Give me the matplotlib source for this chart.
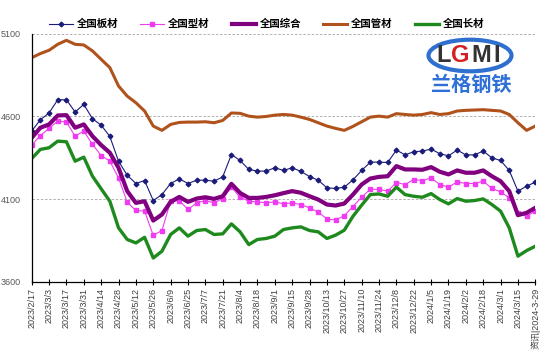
import matplotlib
matplotlib.use("Agg")
import matplotlib.pyplot as plt
import numpy as np
from matplotlib.patches import Ellipse

plt.rcParams['font.family'] = ['Liberation Sans', 'Noto Sans CJK SC']

date_labels = ['2023/2/17', '2023/3/3', '2023/3/17', '2023/3/31', '2023/4/14', '2023/4/28',
               '2023/5/12', '2023/5/26', '2023/6/9', '2023/6/25', '2023/7/7', '2023/7/21',
               '2023/8/4', '2023/8/18', '2023/9/1', '2023/9/15', '2023/9/28', '2023/10/13',
               '2023/10/27', '2023/11/10', '2023/11/24', '2023/12/8', '2023/12/22', '2024/1/5',
               '2024/1/19', '2024/2/2', '2024/2/18', '2024/3/1', '2024/3/15', '资讯|2024-3-29']

# 周度价格指数（元/吨）
banca = [4512, 4580, 4621, 4701, 4701, 4627, 4673, 4586, 4548, 4479, 4330, 4245, 4195, 4213, 4092,
         4128, 4195, 4223, 4195, 4215, 4215, 4209, 4235, 4370, 4334, 4280, 4270, 4270, 4290, 4274,
         4290, 4268, 4237, 4215, 4169, 4165, 4173, 4217, 4274, 4324, 4324, 4322, 4397, 4368, 4387,
         4391, 4403, 4375, 4362, 4397, 4368, 4368, 4391, 4350, 4334, 4274, 4149, 4179, 4203]
xingcai = [4427, 4485, 4528, 4572, 4566, 4481, 4512, 4431, 4364, 4330, 4229, 4082, 4032, 4028, 3882,
           3911, 4088, 4092, 4038, 4078, 4092, 4078, 4104, 4173, 4112, 4088, 4084, 4078, 4084, 4072,
           4078, 4068, 4048, 4022, 3981, 3975, 4001, 4056, 4112, 4161, 4159, 4149, 4201, 4189, 4219,
           4213, 4229, 4189, 4173, 4205, 4195, 4195, 4209, 4165, 4145, 4108, 4016, 3997, 4028]
zonghe = [4471, 4532, 4552, 4606, 4608, 4532, 4552, 4481, 4427, 4381, 4290, 4149, 4078, 4088, 3971,
          4008, 4084, 4114, 4084, 4104, 4112, 4102, 4118, 4193, 4138, 4108, 4108, 4114, 4124, 4137,
          4149, 4139, 4118, 4098, 4068, 4062, 4074, 4128, 4189, 4225, 4235, 4239, 4300, 4280, 4280,
          4278, 4294, 4266, 4250, 4274, 4260, 4260, 4274, 4239, 4209, 4149, 4004, 4018, 4048]
guancai = [4955, 4980, 5000, 5036, 5060, 5036, 5032, 4996, 4945, 4895, 4784, 4723, 4683, 4633, 4542,
           4516, 4552, 4564, 4566, 4566, 4568, 4562, 4576, 4621, 4619, 4602, 4596, 4600, 4608, 4612,
           4608, 4596, 4582, 4562, 4542, 4528, 4516, 4540, 4568, 4596, 4602, 4596, 4617, 4612, 4608,
           4612, 4623, 4612, 4617, 4633, 4637, 4639, 4641, 4637, 4633, 4612, 4562, 4516, 4542]
changcai = [4346, 4401, 4411, 4451, 4447, 4330, 4354, 4239, 4163, 4088, 3927, 3857, 3836, 3870, 3745,
            3786, 3887, 3927, 3877, 3911, 3917, 3887, 3891, 3951, 3903, 3826, 3857, 3863, 3877, 3917,
            3927, 3933, 3911, 3903, 3863, 3883, 3913, 3997, 4064, 4128, 4132, 4118, 4173, 4128, 4118,
            4112, 4134, 4098, 4072, 4104, 4088, 4092, 4102, 4068, 4028, 3927, 3756, 3790, 3816]

W, H = 546, 364
fig = plt.figure(figsize=(W / 100, H / 100), dpi=100)
ax = fig.add_axes([31.7 / W, 82 / H, 503.6 / W, 248.3 / H])

x = np.arange(len(banca))
ax.plot(x, banca, color='#1B1B7A', lw=0.8, marker='D', ms=2.4, label='全国板材')
ax.plot(x, xingcai, color='#F03CF0', lw=0.8, marker='s', ms=2.2, label='全国型材')
ax.plot(x, zonghe, color='#800080', lw=3.0, label='全国综合')
ax.plot(x, guancai, color='#B0521C', lw=2.2, label='全国管材')
ax.plot(x, changcai, color='#1E8A1E', lw=2.4, label='全国长材')

ax.set_xlim(0, len(banca) - 1)
ax.set_ylim(3600, 5100)
ax.set_yticks([3600, 4100, 4600, 5100])
ax.set_xticks(x[::2])
ax.set_xticklabels(date_labels, rotation=90)

for s in ['top', 'right']:
    ax.spines[s].set_visible(False)
ax.spines['left'].set_linewidth(0.9)
ax.spines['bottom'].set_linewidth(0.9)
ax.grid(axis='y', ls=(0, (3, 2)), color='#A6A6A6', lw=0.6)
ax.set_axisbelow(True)
ax.tick_params(axis='y', length=0, pad=8, labelsize=6.5, labelcolor='#595959')
ax.tick_params(axis='x', direction='inout', length=4, width=0.8, labelsize=6.5,
               labelcolor='#404040', pad=2)

fig.legend(loc='center', bbox_to_anchor=(0.488, 0.934), ncol=5, frameon=False,
           prop={'family': 'Noto Sans CJK SC', 'weight': 'bold', 'size': 7.5},
           handlelength=2.3, handletextpad=0.4, columnspacing=2.1)

# 兰格钢铁 logo
fig.add_artist(Ellipse((470 / W, 1 - 55.5 / H), 83 / W, 31.6 / H, transform=fig.transFigure,
                       facecolor='white', edgecolor='#2F6FD0', lw=3))
for ch, px, col in [('L', 444, '#333333'), ('G', 460, '#D42020'),
                    ('M', 481, '#333333'), ('I', 497, '#333333')]:
    fig.text(px / W, 1 - 56 / H, ch, ha='center', va='center', fontsize=17,
             weight='bold', color=col)
fig.text(471.7 / W, 1 - 84 / H, '兰格钢铁', ha='center', va='center', fontsize=14.5,
         family='Noto Sans CJK SC', weight='bold', color='#2E6FD8')

fig.savefig('out.png', dpi=100)
